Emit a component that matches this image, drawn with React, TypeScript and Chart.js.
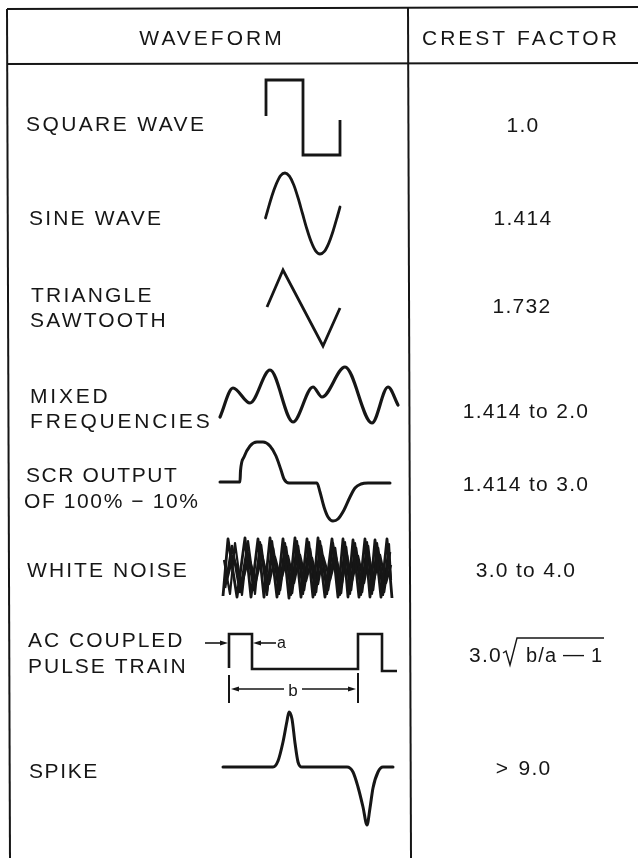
import React, { useEffect, useRef } from "react";
import Chart from "chart.js/auto";

type P = [number, number];

// ---------- table content ----------
const HEADERS = ["WAVEFORM", "CREST FACTOR"];
const WAVEFORMS: string[][] = [
  ["SQUARE WAVE"],
  ["SINE WAVE"],
  ["TRIANGLE", "SAWTOOTH"],
  ["MIXED", "FREQUENCIES"],
  ["SCR OUTPUT", "OF 100% \u2212 10%"],
  ["WHITE NOISE"],
  ["AC COUPLED", "PULSE TRAIN"],
  ["SPIKE"],
];
const CREST_FACTORS = [
  "1.0",
  "1.414",
  "1.732",
  "1.414 to 2.0",
  "1.414 to 3.0",
  "3.0 to 4.0",
  "3.0\u221Ab/a \u22121",
  "> 9.0",
];

// ---------- waveform shapes (sheet units) ----------
const SQUARE_WAVE: P[] = [[266, 116], [266, 80], [303, 80], [303, 155], [340, 155], [340, 120]];
const SINE_WAVE: P[] = [
  [265.5, 218], [267.5, 211], [271.9, 196], [276.3, 183.9], [280.6, 175.6], [285, 173],
  [289.4, 176.1], [293.8, 184.9], [298.1, 198], [302.5, 213.5], [306.9, 229], [311.3, 242.1],
  [315.6, 250.9], [320, 254], [324.4, 251.4], [328.8, 243.1], [333.1, 231], [337.5, 216], [340, 207],
];
const TRIANGLE_WAVE: P[] = [[267, 307], [283, 270], [323, 346], [340, 308]];
const MIXED_WAVE: P[] = [
  [220, 417], [233, 388], [250, 403], [270, 370], [293, 422], [313, 387], [322, 397],
  [345, 367], [372, 423], [388, 387], [398, 405],
];
const SCR_WAVE: P[] = [
  [220, 482], [240, 482], [240.5, 471], [244, 457], [250, 446], [257, 442], [263, 442],
  [270, 446], [276, 456], [281, 470], [284, 479], [289, 483], [317, 483], [320, 492],
  [324, 507], [328, 517], [333, 521], [338, 519], [344, 510], [350, 497], [355, 488],
  [361, 484], [368, 483], [390, 483],
];
const NOISE_A: P[] = [
  [223, 596], [228, 539], [237, 597], [245, 538], [251, 597], [258, 539], [264, 597], [270, 538],
  [277, 597], [283, 539], [289, 598], [295, 538], [301, 597], [307, 539], [313, 597], [318, 538],
  [325, 597], [332, 539], [338, 597], [343, 539], [348, 597], [353, 540], [359, 597], [365, 539],
  [370, 597], [375, 540], [381, 597], [387, 539], [392, 598],
];
const NOISE_B: P[] = [
  [225, 588], [232, 546], [240, 592], [247, 549], [254, 590], [261, 545], [267, 591], [273, 548],
  [280, 590], [286, 547], [292, 593], [298, 546], [304, 590], [310, 549], [316, 592], [321, 546],
  [328, 590], [335, 548], [341, 593], [346, 547], [351, 590], [356, 548], [362, 592], [368, 546],
  [373, 590], [378, 548], [384, 592], [390, 552],
];
const NOISE_C: P[] = [
  [227, 580], [233, 556], [242, 583], [249, 558], [256, 581], [262, 555], [269, 584], [275, 557],
  [281, 580], [288, 556], [294, 583], [300, 555], [306, 581], [312, 558], [318, 584], [323, 556],
  [330, 580], [336, 557], [342, 583], [347, 555], [352, 581], [358, 556], [364, 583], [369, 557],
  [374, 580], [380, 555], [386, 583], [391, 565],
];
const NOISE_D: P[] = [
  [224, 560], [230, 594], [235, 543], [242, 595], [248, 541], [255, 594], [260, 542], [267, 595],
  [272, 541], [279, 594], [285, 543], [291, 595], [297, 541], [303, 594], [309, 542], [315, 595],
  [320, 541], [327, 594], [333, 543], [340, 595], [345, 542], [350, 594], [355, 543], [361, 595],
  [367, 542], [372, 594], [377, 543], [383, 595], [389, 544], [391, 580],
];
const PULSE_TRAIN: P[] = [
  [229, 668], [229, 634], [252, 634], [252, 669], [358, 669], [358, 634], [382, 634], [382, 671], [397, 671],
];
const SPIKE_WAVE: P[] = [
  [223, 767], [273, 767], [278, 761], [283, 742], [287, 721], [289, 712], [292, 719], [295, 743],
  [298, 762], [302, 767], [347, 767], [353, 772], [358, 787], [363, 807], [367, 825], [370, 808],
  [373, 788], [378, 772], [383, 767], [393, 767],
];

// ---------- table rules & dimension marks ----------
const RULE_TOP: P[] = [[7, 9], [638, 7]];
const RULE_HEAD: P[] = [[7, 64], [638, 63]];
const RULE_LEFT: P[] = [[7, 9], [10, 858]];
const RULE_DIVIDER: P[] = [[408, 8], [411, 858]];
const A_ARROW_L: P[] = [[205, 643], [223, 643]];
const A_ARROW_R: P[] = [[276, 643], [258, 643]];
const B_BAR_L: P[] = [[229, 675], [229, 703]];
const B_BAR_R: P[] = [[358, 673], [358, 703]];
const B_SHAFT_L: P[] = [[236, 689], [284, 689]];
const B_SHAFT_R: P[] = [[302, 689], [351, 689]];
const RADICAL: P[] = [[503, 653], [506, 651], [510, 665], [517, 638], [604, 638]];

// ---------- text anchors ----------
const HEADER_POS: [number, number, CanvasTextAlign][] = [[212, 45, "center"], [422, 45, "left"]];
const LABEL_X: number[][] = [[26], [29], [31, 30], [30, 30], [26, 24], [27], [28, 28], [29]];
const LABEL_BASE: number[][] = [[131], [225], [302, 327], [403, 428], [482, 508], [577], [647, 673], [778]];
const LABEL_SPACING: number[] = [2.4, 2.2, 2.2, 2.8, 1.6, 2.1, 2.0, 1.6];
const VALUE_POS: P[] = [[523, 132], [523, 225], [522, 313], [526, 418], [526, 491], [526, 577], [469, 662], [525, 775]];

const INK = "#161616";
const FONT = '"Liberation Sans", Arial, Helvetica, sans-serif';

export default function App() {
  const ref = useRef<HTMLCanvasElement>(null);

  useEffect(() => {
    if (!ref.current) return;
    const toXY = (pts: P[]) => pts.map(([x, y]) => ({ x, y }));
    const ds = (pts: P[], extra: any = {}) => ({
      data: toXY(pts),
      borderColor: INK,
      backgroundColor: INK,
      borderWidth: 2.6,
      pointRadius: 0,
      pointHoverRadius: 0,
      tension: 0,
      fill: false,
      borderJoinStyle: "miter",
      ...extra,
    });
    const smooth = { cubicInterpolationMode: "monotone", borderJoinStyle: "round", borderCapStyle: "round" };

    const datasets = [
      ds(RULE_TOP, { borderWidth: 2 }),
      ds(RULE_HEAD, { borderWidth: 2 }),
      ds(RULE_LEFT, { borderWidth: 2 }),
      ds(RULE_DIVIDER, { borderWidth: 2 }),
      ds(SQUARE_WAVE, { borderWidth: 2.8 }),
      ds(SINE_WAVE, { ...smooth, borderWidth: 2.8 }),
      ds(TRIANGLE_WAVE, { borderWidth: 2.8 }),
      ds(MIXED_WAVE, { ...smooth, borderWidth: 3.2 }),
      ds(SCR_WAVE, { ...smooth, borderWidth: 3 }),
      ds(NOISE_A, { borderWidth: 2.8, borderJoinStyle: "round" }),
      ds(NOISE_B, { borderWidth: 2.6, borderJoinStyle: "round" }),
      ds(NOISE_C, { borderWidth: 2.4, borderJoinStyle: "round" }),
      ds(NOISE_D, { borderWidth: 2.2, borderJoinStyle: "round" }),
      ds(PULSE_TRAIN, { borderWidth: 2.6 }),
      ds(SPIKE_WAVE, { ...smooth, borderWidth: 3 }),
      ds(A_ARROW_L, { borderWidth: 1.6 }),
      ds(A_ARROW_R, { borderWidth: 1.6 }),
      ds(B_BAR_L, { borderWidth: 2 }),
      ds(B_BAR_R, { borderWidth: 2 }),
      ds(B_SHAFT_L, { borderWidth: 1.5 }),
      ds(B_SHAFT_R, { borderWidth: 1.5 }),
      ds(RADICAL, { borderWidth: 1.4 }),
    ];

    const textPlugin = {
      id: "sheetText",
      afterDatasetsDraw(chart: any) {
        const ctx: CanvasRenderingContext2D = chart.ctx;
        const sx = chart.scales.x;
        const sy = chart.scales.y;
        const px = (v: number) => sx.getPixelForValue(v);
        const py = (v: number) => sy.getPixelForValue(v);
        const text = (s: string, x: number, y: number, size: number, align: CanvasTextAlign, spacing: number) => {
          ctx.font = `${size}px ${FONT}`;
          (ctx as any).letterSpacing = `${spacing}px`;
          ctx.textAlign = align;
          ctx.textBaseline = "alphabetic";
          ctx.fillText(s, px(x), py(y));
        };
        const arrowHead = (tx: number, ty: number, dir: number) => {
          const L = 8, H = 2.6;
          ctx.beginPath();
          ctx.moveTo(px(tx), py(ty));
          ctx.lineTo(px(tx - dir * L), py(ty - H));
          ctx.lineTo(px(tx - dir * L), py(ty + H));
          ctx.closePath();
          ctx.fill();
        };
        ctx.save();
        ctx.fillStyle = INK;

        HEADERS.forEach((h, i) => {
          const [x, y, al] = HEADER_POS[i];
          text(h, x, y, 21, al, 3);
        });

        WAVEFORMS.forEach((lines, i) => {
          lines.forEach((ln, j) => text(ln, LABEL_X[i][j], LABEL_BASE[i][j], 21, "left", LABEL_SPACING[i]));
        });

        CREST_FACTORS.forEach((v, i) => {
          const [x, y] = VALUE_POS[i];
          if (v.includes("\u221A")) {
            const [lead, rest] = v.split("\u221A");
            text(lead, x, y, 21, "left", 1.2);
            const [frac, tail] = rest.split(" ");
            text(frac, 526, y, 20, "left", 1.2);
            text("\u2014", 563, y - 1, 21, "left", 0);
            text(tail.replace("\u2212", ""), 591, y, 20, "left", 0);
          } else if (v.startsWith(">")) {
            text(">", 502, y, 21, "center", 0);
            text(v.slice(2), 535, y, 21, "center", 1.3);
          } else {
            text(v, x, y, 21, "center", 1.3);
          }
        });

        text("a", 277, 648, 16, "left", 0);
        text("b", 293, 696, 17, "center", 0);
        arrowHead(228, 643, 1);
        arrowHead(253, 643, -1);
        arrowHead(231, 689, -1);
        arrowHead(356, 689, 1);
        ctx.restore();
      },
    };

    const chart = new Chart(ref.current, {
      type: "line",
      data: { datasets: datasets as any },
      options: {
        responsive: false,
        animation: false,
        events: [],
        layout: { padding: 0 },
        plugins: { legend: { display: false }, tooltip: { enabled: false }, title: { display: false } },
        scales: {
          x: { type: "linear", min: 0, max: 638, display: false },
          y: { type: "linear", min: 0, max: 858, reverse: true, display: false },
        },
      } as any,
      plugins: [textPlugin],
    });
    return () => chart.destroy();
  }, []);

  return (
    <div style={{ position: "absolute", left: 0, top: 0, width: 638, height: 858, background: "#ffffff" }}>
      <canvas ref={ref} width={638} height={858} style={{ display: "block", width: 638, height: 858 }} />
    </div>
  );
}
